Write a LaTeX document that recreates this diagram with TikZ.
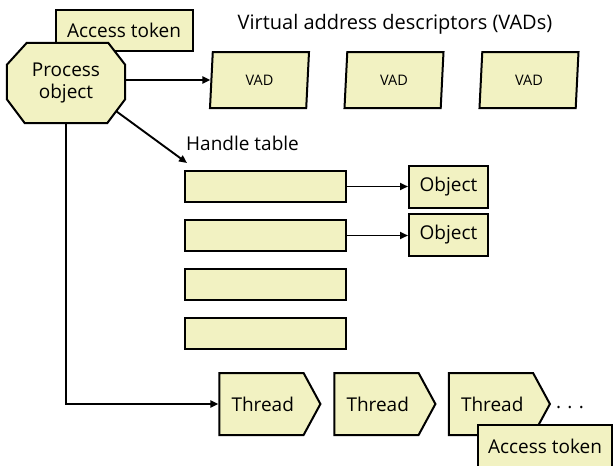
\documentclass[tikz,border=0pt]{standalone}
\usepackage{fontspec}
\setmainfont{Open Sans}
\usetikzlibrary{shapes.geometric,shapes.symbols,arrows.meta,calc}
\definecolor{boxfill}{RGB}{242,242,194}
\tikzset{
  box/.style={draw=black,fill=boxfill,line width=2pt,inner sep=0pt,font=\fontsize{19}{21}\selectfont},
  tokbox/.style={box,rectangle,minimum width=137pt,minimum height=41pt},
  rowbox/.style={box,rectangle,minimum width=161pt,minimum height=31pt},
  objbox/.style={box,rectangle,minimum width=79pt,minimum height=42pt},
  vadbox/.style={box,trapezium,trapezium left angle=75,trapezium right angle=105,trapezium stretches body,minimum width=99pt,minimum height=56pt,font=\fontsize{14.5}{16}\selectfont},
  procnode/.style={rectangle,minimum width=118pt,minimum height=80pt,inner sep=0pt,align=center,font=\fontsize{19}{22}\selectfont},
  procshape/.style={draw=black,fill=boxfill,line width=2pt,line join=miter},
  threadbox/.style={box,signal,signal to=east,signal pointer angle=123,minimum width=101pt,minimum height=62pt,text width=60pt,align=left,inner xsep=0pt},
  lbl/.style={inner sep=0pt,font=\fontsize{19}{21}\selectfont},
  arr/.style={line width=1.9pt,-{Triangle[length=8pt,width=7pt]}},
}
\begin{document}
\begin{tikzpicture}[x=1pt,y=-1pt]
\useasboundingbox[fill=white] (0,0) rectangle (616,466);
% top-left
\node[tokbox] (tok1) at (124,30.5) {Access token};
\node[procnode] (proc) at (66,83) {};
\draw[procshape] ([xshift=20pt]proc.north west) -- ([xshift=-17pt]proc.north east)
  -- ([yshift=-22pt]proc.north east) -- ([yshift=24pt]proc.south east)
  -- ([xshift=-18pt]proc.south east) -- ([xshift=18pt]proc.south west)
  -- ([yshift=24pt]proc.south west) -- ([yshift=-22pt]proc.north west) -- cycle;
\node[procnode] at (proc.center) {Process\\object};
% VADs
\node[lbl,font=\fontsize{20}{22}\selectfont] (title) at (395,24) {Virtual address descriptors (VADs)};
\node[vadbox] (vad1) at (259.5,80) {VAD};
\node[vadbox] (vad2) at (394,80) {VAD};
\node[vadbox] (vad3) at (529,80) {VAD};
% handle table
\node[lbl,anchor=west] (htl) at (186,143) {Handle table};
\coordinate (hta) at (187,163);
\node[rowbox] (row1) at (265.5,186.5) {};
\node[rowbox] (row2) at (265.5,235.5) {};
\node[rowbox] (row3) at (265.5,284.5) {};
\node[rowbox] (row4) at (265.5,333.5) {};
\node[objbox] (obj1) at (448.5,187) {Object};
\node[objbox] (obj2) at (448.5,235) {Object};
% threads
\node[threadbox] (th1) at (261.5,404) {Thread};
\node[threadbox] (th2) at (376.5,404) {Thread};
\node[threadbox] (th3) at (491,404) {Thread};
\node[lbl] (dots) at (570,408) {.\,\,.\,\,.};
\node[tokbox,minimum width=134pt,minimum height=43pt] (tok2) at (545,446.5) {Access token};
% connectors
\draw[arr] (proc.east |- vad1.west) -- (vad1.west);
\draw[arr] ($(proc.south east)+(-9,-12)$) -- (hta);
\draw[arr] (row1.east) -- (row1.east -| obj1.west);
\draw[arr] (row2.east) -- (row2.east -| obj2.west);
\draw[arr] (proc.south) |- (th1.west);
\end{tikzpicture}
\end{document}
